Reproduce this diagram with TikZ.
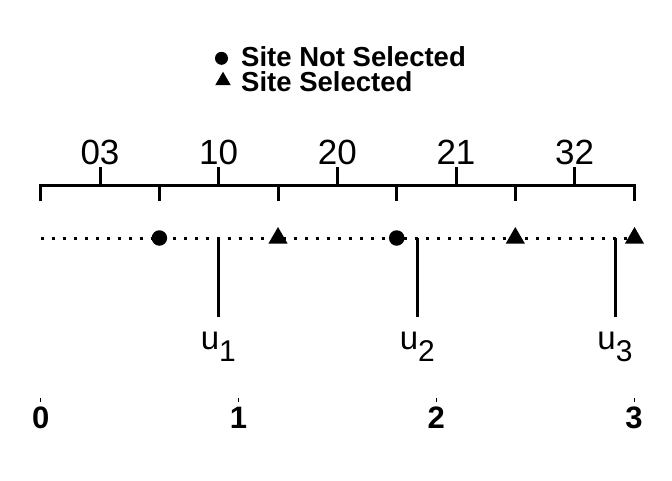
\documentclass[tikz,border=0pt]{standalone}
\usepackage{fontspec}
\setmainfont{Liberation Sans}
\usetikzlibrary{shapes.geometric}
\begin{document}
\begin{tikzpicture}[x=1pt,y=-1pt,
  axisline/.style={line width=3pt, line join=miter},
  dotline/.style={line width=3pt, dash pattern=on 3pt off 8pt},
  uline/.style={line width=3pt},
  smalltick/.style={line width=1pt},
  circmark/.style={circle, fill=black, inner sep=0pt, minimum size=15.5pt},
  trimark/.style={regular polygon, regular polygon sides=3, fill=black, inner sep=0pt, minimum size=22pt},
  legcirc/.style={circle, fill=black, inner sep=0pt, minimum size=13pt},
  legtri/.style={regular polygon, regular polygon sides=3, fill=black, inner sep=0pt, minimum size=18pt},
  toplabel/.style={anchor=base, inner sep=0pt, font=\fontsize{35}{35}\selectfont},
  ulabel/.style={anchor=base, inner sep=0pt, font=\fontsize{33}{33}\selectfont},
  botlabel/.style={anchor=base, inner sep=0pt, font=\fontsize{31}{31}\selectfont\bfseries},
  legtext/.style={anchor=base west, inner sep=0pt, font=\fontsize{27.5}{27.5}\selectfont\bfseries}
]
\useasboundingbox[fill=white] (0,0) rectangle (672,480);

% legend
\node[legcirc] (lc) at (221.5,58.3) {};
\node[legtext] (ltc) at (241,66.5) {Site Not Selected};
\node[legtri] (lt) at (223,80.7) {};
\node[legtext] (ltt) at (241,91.5) {Site Selected};

% top axis
\coordinate (d0) at (40.7,185);  \coordinate (d0b) at (40.7,201);
\coordinate (d1) at (159.4,185); \coordinate (d1b) at (159.4,201);
\coordinate (d2) at (278.0,185); \coordinate (d2b) at (278.0,201);
\coordinate (d3) at (396.7,185); \coordinate (d3b) at (396.7,201);
\coordinate (d4) at (515.3,185); \coordinate (d4b) at (515.3,201);
\coordinate (d5) at (634.0,185); \coordinate (d5b) at (634.0,201);
\draw[axisline] (d0b) -- (d0) -- (d5) -- (d5b);
\draw[axisline] (d1) -- (d1b);
\draw[axisline] (d2) -- (d2b);
\draw[axisline] (d3) -- (d3b);
\draw[axisline] (d4) -- (d4b);

\coordinate (p1) at (100.0,185); \coordinate (p1t) at (100.0,167);
\coordinate (p2) at (218.7,185); \coordinate (p2t) at (218.7,167);
\coordinate (p3) at (337.3,185); \coordinate (p3t) at (337.3,167);
\coordinate (p4) at (456.0,185); \coordinate (p4t) at (456.0,167);
\coordinate (p5) at (574.7,185); \coordinate (p5t) at (574.7,167);
\draw[axisline] (p1) -- (p1t);
\draw[axisline] (p2) -- (p2t);
\draw[axisline] (p3) -- (p3t);
\draw[axisline] (p4) -- (p4t);
\draw[axisline] (p5) -- (p5t);
\node[toplabel] (l03) at (100.0,164) {03};
\node[toplabel] (l10) at (218.7,164) {10};
\node[toplabel] (l20) at (337.3,164) {20};
\node[toplabel] (l21) at (456.0,164) {21};
\node[toplabel] (l32) at (574.7,164) {32};

% dotted line
\coordinate (s0) at (40.7,238);
\coordinate (s1) at (634.0,238);
\draw[dotline] (s0) -- (s1);

% u lines
\coordinate (u1a) at (218.3,238); \coordinate (u1b) at (218.3,317);
\coordinate (u2a) at (417.3,238); \coordinate (u2b) at (417.3,317);
\coordinate (u3a) at (615.0,238); \coordinate (u3b) at (615.0,317);
\draw[uline] (u1a) -- (u1b);
\draw[uline] (u2a) -- (u2b);
\draw[uline] (u3a) -- (u3b);
\node[ulabel] (lu1) at (218.3,349) {u\raisebox{-12pt}{\fontsize{30}{30}\selectfont 1}};
\node[ulabel] (lu2) at (417.3,349) {u\raisebox{-12pt}{\fontsize{30}{30}\selectfont 2}};
\node[ulabel] (lu3) at (615.0,349) {u\raisebox{-12pt}{\fontsize{30}{30}\selectfont 3}};

% markers
\node[circmark] (m1) at (159.4,238) {};
\node[trimark]  (m2) at (278.0,238) {};
\node[circmark] (m3) at (396.7,238) {};
\node[trimark]  (m4) at (515.3,238) {};
\node[trimark]  (m5) at (634.5,238) {};

% bottom axis
\coordinate (b0) at (40.7,398);  \coordinate (b0e) at (40.7,401.5);
\coordinate (b1) at (238.5,398); \coordinate (b1e) at (238.5,401.5);
\coordinate (b2) at (436.3,398); \coordinate (b2e) at (436.3,401.5);
\coordinate (b3) at (634.0,398); \coordinate (b3e) at (634.0,401.5);
\draw[smalltick] (b0) -- (b0e);
\draw[smalltick] (b1) -- (b1e);
\draw[smalltick] (b2) -- (b2e);
\draw[smalltick] (b3) -- (b3e);
\node[botlabel] (n0) at (40.7,428) {0};
\node[botlabel] (n1) at (238.5,428) {1};
\node[botlabel] (n2) at (436.3,428) {2};
\node[botlabel] (n3) at (634.0,428) {3};
\end{tikzpicture}
\end{document}
